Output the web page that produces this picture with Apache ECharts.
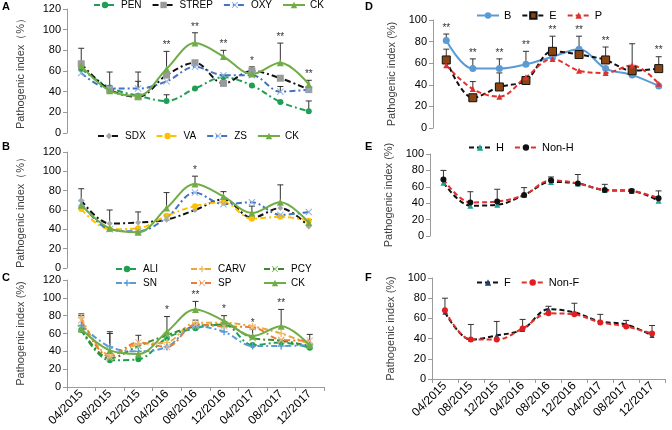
<!DOCTYPE html>
<html><head><meta charset="utf-8">
<script src="https://cdn.jsdelivr.net/npm/echarts@6/dist/echarts.min.js"></script>
<style>html,body{margin:0;padding:0;background:#fff}#c{width:672px;height:430px}</style>
</head><body><div id="c"></div>
<script>
// ---------- data ----------
const categories = ['04/2015','08/2015','12/2015','04/2016','08/2016','12/2016','04/2017','08/2017','12/2017'];
const leftTicks = [0,20,40,60,80,100,120];
const rightTicks = [0,20,40,60,80,100];

// Panel A
const aPEN   = [62,44,36,31,43,54,46,30,21];
const aSTREP = [67,42,35,56,68,48,60,53,42];
const aOXY   = [58,43,43,50,64,56,56,40,42];
const aCK    = [65,41,36,62,87,74,57,68,47];
const aErr   = [82,59,59,79,97,80,64,87,51];
const aErr2  = [null,null,50,37,null,null,null,45,31];
const aSig   = ['','','','**','**','**','*','**','**'];

// Panel B
const bSDX = [70,46,47,50,60,71,52,62,43];
const bVA  = [61,40,41,54,64,68,51,53,49];
const bZS  = [67,40,38,52,78,66,68,55,58];
const bCK  = [65,41,37,62,87,74,57,68,47];
const bErr = [82,60,58,78,95,79,64,86,50];
const bSig = ['','','','','*','','','',''];

// Panel C
const cALI  = [64,30,31,55,66,70,47,50,44];
const cCARV = [78,36,48,50,72,72,68,60,48];
const cPCY  = [65,32,46,58,68,70,55,52,46];
const cSN   = [69,45,40,45,68,62,46,46,47];
const cSP   = [75,34,50,45,70,68,67,53,52];
const cCK   = [65,41,37,62,87,74,57,68,47];
const cErr  = [82,62,58,79,96,80,65,87,59];
const cErr2 = [80,60,null,null,75,null,null,null,null];
const cSig  = ['','','','*','**','*','*','**',''];

// Panel D
const dB   = [81,55,55,59,66,73,55,49,39];
const dE   = [63,28,38,44,71,68,63,53,55];
const dP   = [58,36,29,47,64,53,51,58,41];
const dErr = [87,64,64,71,85,85,75,78,66];
const dErr2= [73,43,51,null,null,null,null,null,null];
const dSig = ['**','**','**','**','**','**','**','','**'];

// Panel E
const eH    = [65,37,38,50,66,64,56,55,43];
const eNonH = [69,41,42,50,68,64,56,55,46];
const eErr  = [80,54,57,59,72,75,63,57,55];

// Panel F
const fF    = [66,39,43,49,69,66,57,54,43];
const fNonF = [68,39,39,50,65,64,56,52,45];
const fErr  = [80,54,57,59,72,75,64,58,53];

// ---------- styling ----------
const FONT = '"Liberation Sans", Arial, Helvetica, sans-serif';
const X_PATH = 'path://M0,1L1,0L5,4L9,0L10,1L6,5L10,9L9,10L5,6L1,10L0,9L4,5Z';
const PLUS_PATH = 'path://M4,0H6V4H10V6H6V10H4V6H0V4H4Z';
const DASHDOT = [6,3,2,3];
const DASH = [5,3];

const grids = [
  {left:67, top:9,   width:256, height:124},
  {left:67, top:152, width:256, height:116},
  {left:67, top:280, width:257, height:107},
  {left:433,top:20,  width:245, height:108},
  {left:430,top:154, width:244, height:82},
  {left:432,top:278, width:233, height:101}
];
const showX = [false,false,true,false,false,true];
const yNames = ['Pathogenic index（%）','Pathogenic index（%）','Pathogenic index (%)',
                'Pathogenic index (%)','Pathogenic index (%)','Pathogenic index (%)'];

const xAxes = grids.map((g,i)=>({
  type:'category', gridIndex:i, data:categories, boundaryGap:true,
  axisLine:{show:showX[i], lineStyle:{color:'#9a9a9a'}},
  axisTick:{show:showX[i], length:4, interval:0, lineStyle:{color:'#9a9a9a'}},
  axisLabel:{show:showX[i], rotate:45, interval:0, fontSize:12, color:'#000', fontFamily:FONT, margin:5},
  splitLine:{show:false}
}));
const yAxes = grids.map((g,i)=>{
  const t = i<3 ? leftTicks : rightTicks;
  return {
    type:'value', gridIndex:i, min:t[0], max:t[t.length-1], interval:t[1]-t[0],
    name:yNames[i], nameLocation:'middle', nameGap: i<3?41:36, nameRotate:90,
    nameTextStyle:{fontSize:11, color:'#404040', fontFamily:FONT},
    axisLine:{show:true, lineStyle:{color:'#9a9a9a'}},
    axisTick:{show:true, length:4, lineStyle:{color:'#9a9a9a'}},
    axisLabel:{fontSize:11, color:'#000', fontFamily:FONT, margin:6},
    splitLine:{show:false}
  };
});

function ln(name, data, g, color, dash, symbol, symColor, symSize, opt){
  opt = opt || {};
  return {
    type:'line', name, data, xAxisIndex:g, yAxisIndex:g,
    smooth: opt.smooth===undefined ? 0.35 : opt.smooth,
    symbol, symbolSize:symSize, showSymbol:true,
    lineStyle:{color, width:opt.width||2, type:dash||'solid'},
    itemStyle:{color:symColor, borderColor:opt.border||symColor, borderWidth:opt.bw||0},
    z: opt.z||3, animation:false
  };
}

function errSeries(g, tops, seriesArr){
  const data = tops.map((t,i)=>{
    if(t==null) return null;
    const below = seriesArr.map(s=>s[i]).filter(v=>v<t);
    const base = below.length ? Math.max(...below) : t;
    return [i, t, base];
  }).filter(d=>d);
  return {
    type:'custom', xAxisIndex:g, yAxisIndex:g, data, z:2, silent:true, animation:false,
    encode:{x:0, y:[1,2]},
    renderItem:(p, api)=>{
      const top = api.coord([api.value(0), api.value(1)]);
      const base = api.coord([api.value(0), api.value(2)]);
      const st = {stroke:'#333', lineWidth:1};
      return {type:'group', children:[
        {type:'line', shape:{x1:top[0],y1:top[1],x2:base[0],y2:base[1]}, style:st},
        {type:'line', shape:{x1:top[0]-3,y1:top[1],x2:top[0]+3,y2:top[1]}, style:st}
      ]};
    }
  };
}

function sigSeries(g, tops, labels){
  const data = tops.map((t,i)=>[i,t]);
  return {
    type:'custom', xAxisIndex:g, yAxisIndex:g, data, z:4, silent:true, animation:false,
    encode:{x:0, y:1},
    renderItem:(p, api)=>{
      const txt = labels[p.dataIndex];
      if(!txt) return null;
      const pt = api.coord([api.value(0), api.value(1)]);
      return {type:'text', x:pt[0], y:pt[1]-1,
        style:{text:txt, fill:'#333', font:'10px '+FONT, align:'center', verticalAlign:'bottom'}};
    }
  };
}

const series = [
  // A
  errSeries(0, aErr, [aPEN,aSTREP,aOXY,aCK]),
  errSeries(0, aErr2, [aPEN,aSTREP,aOXY,aCK]),
  sigSeries(0, aErr, aSig),
  ln('PEN', aPEN, 0, '#1f9e55', DASHDOT, 'circle', '#1f9e55', 6),
  ln('STREP', aSTREP, 0, '#111', DASHDOT, 'rect', '#9a9a9a', 7),
  ln('OXY', aOXY, 0, '#4472c4', DASHDOT, X_PATH, '#8fb0e0', 7),
  ln('CK', aCK, 0, '#70ad47', 'solid', 'triangle', '#70ad47', 7, {z:5}),
  // B
  errSeries(1, bErr, [bSDX,bVA,bZS,bCK]),
  sigSeries(1, bErr, bSig),
  ln('SDX', bSDX, 1, '#111', DASHDOT, 'diamond', '#a8a8a8', 6),
  ln('VA', bVA, 1, '#ffc000', DASHDOT, 'circle', '#ffc000', 6),
  ln('ZS', bZS, 1, '#4472c4', DASHDOT, X_PATH, '#8fb0e0', 7),
  ln('CK', bCK, 1, '#70ad47', 'solid', 'triangle', '#70ad47', 7, {z:5}),
  // C
  errSeries(2, cErr, [cALI,cCARV,cPCY,cSN,cSP,cCK]),
  errSeries(2, cErr2, [cALI,cCARV,cPCY,cSN,cSP,cCK]),
  sigSeries(2, cErr, cSig),
  ln('ALI', cALI, 2, '#1fa050', DASHDOT, 'circle', '#1fa050', 6),
  ln('CARV', cCARV, 2, '#e8a838', DASHDOT, PLUS_PATH, '#f0c060', 7),
  ln('PCY', cPCY, 2, '#3e8a2e', DASHDOT, X_PATH, '#8cc070', 7),
  ln('SN', cSN, 2, '#5b9bd5', DASHDOT, PLUS_PATH, '#5b9bd5', 7),
  ln('SP', cSP, 2, '#ed7d31', DASHDOT, X_PATH, '#f4b183', 7),
  ln('CK', cCK, 2, '#70ad47', 'solid', 'triangle', '#70ad47', 7, {z:5}),
  // D
  errSeries(3, dErr, [dB,dE,dP]),
  errSeries(3, dErr2, [dB,dE,dP]),
  sigSeries(3, dErr, dSig),
  ln('B', dB, 3, '#5b9bd5', 'solid', 'circle', '#5b9bd5', 7),
  ln('E', dE, 3, '#111', DASH, 'rect', '#8b4513', 8, {border:'#111', bw:1}),
  ln('P', dP, 3, '#e03030', DASH, 'triangle', '#e03030', 6),
  // E
  errSeries(4, eErr, [eH,eNonH]),
  ln('H', eH, 4, '#111', DASH, 'triangle', '#20a090', 6),
  ln('Non-H', eNonH, 4, '#e03030', DASH, 'circle', '#111', 6),
  // F
  errSeries(5, fErr, [fF,fNonF]),
  ln('F', fF, 5, '#111', DASH, 'triangle', '#1f3f6f', 5),
  ln('Non-F', fNonF, 5, '#e03030', DASH, 'circle', '#e02020', 6)
];

const legBase = {itemWidth:22, itemHeight:8, selectedMode:false,
  textStyle:{fontSize:10, color:'#000', fontFamily:FONT, fontWeight:'normal'}, padding:0, itemGap:10};
const legends = [
  Object.assign({}, legBase, {left:93, top:0, data:['PEN','STREP','OXY','CK']}),
  Object.assign({}, legBase, {left:97, top:131, data:['SDX','VA','ZS','CK']}),
  Object.assign({}, legBase, {left:115, top:264, orient:'vertical', itemGap:4, data:['ALI','SN']}),
  Object.assign({}, legBase, {left:190, top:264, orient:'vertical', itemGap:4, data:['CARV','SP']}),
  Object.assign({}, legBase, {left:263, top:264, orient:'vertical', itemGap:4, data:['PCY','CK']}),
  Object.assign({}, legBase, {left:476, top:10, textStyle:{fontSize:11,color:'#000',fontFamily:FONT}, data:['B','E','P']}),
  Object.assign({}, legBase, {left:468, top:142, textStyle:{fontSize:11,color:'#000',fontFamily:FONT}, data:['H','Non-H']}),
  Object.assign({}, legBase, {left:476, top:277, textStyle:{fontSize:11,color:'#000',fontFamily:FONT}, data:['F','Non-F']})
];

const letters = [['A',2,1],['B',2,141],['C',2,272],['D',365,1],['E',365,141],['F',365,272]];
const graphic = letters.map(l=>({type:'text', left:l[1], top:l[2],
  style:{text:l[0], font:'bold 11px '+FONT, fill:'#000'}}));

const chart = echarts.init(document.getElementById('c'), null, {renderer:'canvas'});
chart.setOption({
  animation:false,
  backgroundColor:'#fff',
  textStyle:{fontFamily:FONT},
  grid:grids, xAxis:xAxes, yAxis:yAxes, legend:legends, series, graphic
});
</script></body></html>
